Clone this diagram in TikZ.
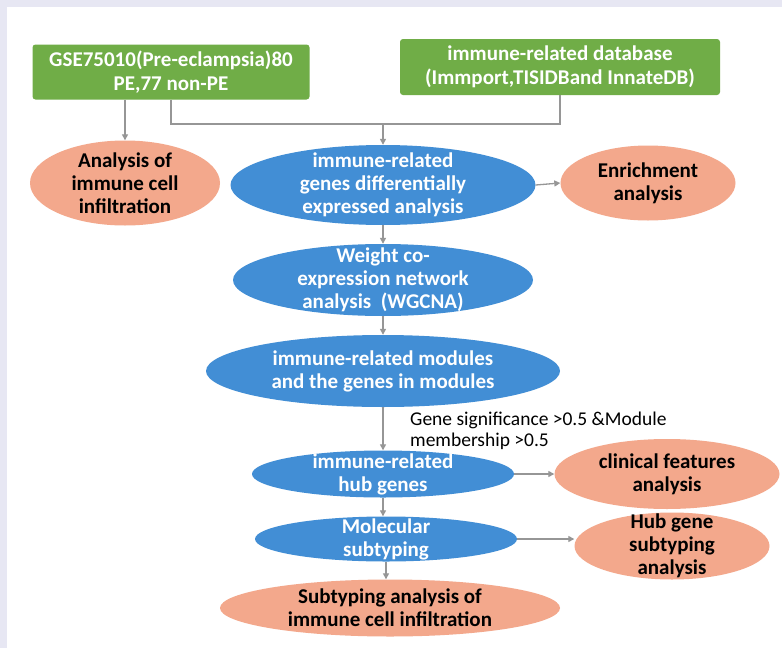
\documentclass[tikz,border=0pt]{standalone}
\usepackage{fontspec}
\setmainfont{Carlito}
\usetikzlibrary{shapes.geometric,arrows.meta}

\definecolor{boxgreen}{RGB}{112,173,71}
\definecolor{ellblue}{RGB}{66,142,213}
\definecolor{ellpink}{RGB}{243,168,140}
\definecolor{linegray}{RGB}{150,150,150}
\definecolor{pagebg}{RGB}{231,231,243}

\tikzset{
  greenbox/.style={fill=boxgreen, rounded corners=3pt, text=white, inner sep=0pt,
    font=\fontsize{21}{24}\selectfont\bfseries, align=center},
  blueell/.style={ellipse, fill=ellblue, inner sep=0pt},
  pinkell/.style={ellipse, fill=ellpink, inner sep=0pt},
  whitetxt/.style={text=white, inner sep=0pt, font=\fontsize{21}{23}\selectfont\bfseries, align=center},
  blacktxt/.style={text=black, inner sep=0pt, font=\fontsize{21}{23}\selectfont\bfseries, align=center},
  conn/.style={draw=linegray, line width=1.3pt},
  arr/.style={conn, -{Triangle[length=6pt,width=6pt]}},
}

\begin{document}
\begin{tikzpicture}[x=1pt,y=-1pt]
    \fill[pagebg] (0,0) rectangle (782,648);
    \fill[white] (7,7) rectangle (782,648);
    \useasboundingbox (0,0) rectangle (782,648);

    %% data sources
    \node[greenbox, minimum width=277pt, minimum height=55pt] (gse) at (171,72)
      {GSE75010(Pre-eclampsia)80\\PE,77 non-PE};
    \node[greenbox, minimum width=320pt, minimum height=56pt] (db) at (560,67)
      {immune-related database\\(Immport,TISIDBand InnateDB)};
    \coordinate (jn) at (383,124);

    %% first row
    \node[pinkell, minimum width=190pt, minimum height=85pt,
      label={[blacktxt]center:{Analysis of\\immune cell\\infiltration}}] (infil) at (125,183) {};
    \node[blueell, minimum width=305pt, minimum height=80pt,
      label={[whitetxt]center:{immune-related\\genes differentially\\expressed analysis}}] (deg) at (383,185) {};
    \node[pinkell, minimum width=175pt, minimum height=75pt,
      label={[blacktxt]center:{Enrichment\\analysis}}] (enrich) at (648,183) {};

    %% main column
    \node[blueell, minimum width=300pt, minimum height=72pt,
      label={[whitetxt]center:{Weight co-\\expression network\\analysis\ \ (WGCNA)}}] (wgcna) at (383,280) {};
    \node[blueell, minimum width=354pt, minimum height=72pt,
      label={[whitetxt]center:{immune-related modules\\and the genes in modules}}] (modules) at (383,371) {};
    \node[blueell, minimum width=262pt, minimum height=47pt,
      label={[whitetxt]center:{immune-related\\hub genes}}] (hub) at (383,474) {};
    \node[blueell, minimum width=262pt, minimum height=45pt,
      label={[whitetxt]center:{Molecular\\subtyping}}] (mol) at (386,539) {};
    \node[pinkell, minimum width=340pt, minimum height=57pt,
      label={[blacktxt]center:{Subtyping analysis of\\immune cell infiltration}}] (subinf) at (390,608) {};

    %% right side
    \node[pinkell, minimum width=225pt, minimum height=70pt,
      label={[blacktxt]center:{clinical features\\analysis}}] (clin) at (667,474) {};
    \node[pinkell, minimum width=195pt, minimum height=67pt,
      label={[blacktxt]center:{Hub gene\\subtyping\\analysis}}] (hubsub) at (672,546) {};

    %% threshold
    \node[anchor=west, align=left, inner sep=0pt, font=\fontsize{19.5}{21}\selectfont] (crit) at (410,431)
      {Gene significance >0.5 \&Module\\membership >0.5};

    %% connectors
    \draw[arr] (infil.north |- gse.south) -- (infil.north);
    \draw[conn] (gse.south) |- (jn) -| (db.south);
    \draw[arr] (jn) -- (deg.north);
    \draw[arr] (deg.east) -- (enrich.west);
    \draw[arr] (deg.south) -- (wgcna.north);
    \draw[arr] (wgcna.south) -- (modules.north);
    \draw[arr] (modules.south) -- (hub.north);
    \draw[arr] (hub.east) -- (clin.west);
    \draw[arr] (hub.south) -- (hub.south |- mol.north);
    \draw[arr] (mol.east) -- (mol.east -| hubsub.west);
    \draw[arr] (mol.south) -- (mol.south |- subinf.north);
\end{tikzpicture}
\end{document}
